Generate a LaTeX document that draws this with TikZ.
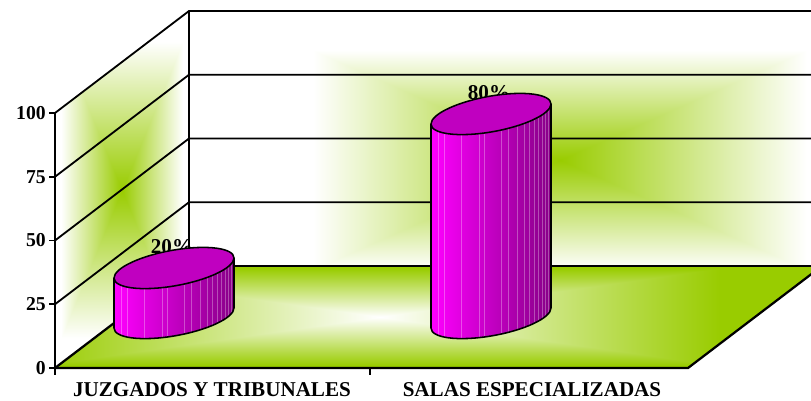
\documentclass[tikz,border=0pt]{standalone}
\usepackage{fontspec}
\setmainfont{Liberation Serif}
\usetikzlibrary{positioning}

\definecolor{floorgreen}{RGB}{153,204,0}
\definecolor{barlight}{RGB}{255,0,255}
\definecolor{barmid}{RGB}{215,0,215}
\definecolor{bardark}{RGB}{135,0,135}
\definecolor{bartop}{RGB}{192,0,192}

% green in the middle, white at the edges (back wall)
\pgfdeclarefunctionalshading{backglow}{\pgfpointorigin}{\pgfpoint{100bp}{100bp}}{}{
  50 sub abs 1.35 mul exch 50 sub abs 1.5 mul
  2 copy lt {exch} if pop
  25 div dup 1 gt {pop 1} if
  dup 0.4 mul 0.6 add exch
  dup 0.2 mul 0.8 add exch
}
% same for the side wall
\pgfdeclarefunctionalshading{sideglow}{\pgfpointorigin}{\pgfpoint{100bp}{100bp}}{}{
  50 sub abs 1.2 mul exch 50 sub abs 1.1 mul
  2 copy lt {exch} if pop
  25 div dup 1 gt {pop 1} if
  dup 0.4 mul 0.6 add exch
  dup 0.2 mul 0.8 add exch
}
% white in the middle, green at the edges (floor)
\pgfdeclarefunctionalshading{floorglow}{\pgfpointorigin}{\pgfpoint{100bp}{100bp}}{}{
  50 sub abs 1.05 mul exch 50 sub abs 1.3 mul
  2 copy lt {exch} if pop
  25 div dup 1 gt {pop 1} if
  dup -0.4 mul 1 add exch
  dup -0.2 mul 1 add exch
  -1 mul 1 add
}

\tikzstyle{gridline}=[line width=1.3pt,black]
\tikzstyle{edgeline}=[line width=1.6pt,black]
\tikzstyle{axislabel}=[font=\fontsize{14}{14}\selectfont\bfseries,inner sep=0pt,anchor=east]
\tikzstyle{catlabel}=[font=\fontsize{15}{15}\selectfont\bfseries,inner sep=0pt,anchor=base]
\tikzstyle{pctlabel}=[font=\fontsize{15}{15}\selectfont\bfseries,inner sep=0pt,anchor=base]
\tikzstyle{barline}=[line width=1.1pt,black]

\begin{document}
\begin{tikzpicture}[x=0.025cm,y=0.025cm]
\useasboundingbox (0,0) rectangle (811,401);
\clip (0,0) rectangle (811,401);

% walls and floor
\begin{scope}
  \clip (189,135) rectangle (822,389);
  \shade[shading=backglow] (190,93) rectangle (930,389);
\end{scope}
\begin{scope}
  \clip (55,33) -- (189,135) -- (189,389) -- (55,288) -- cycle;
  \shade[shading=sideglow] (55,33) rectangle (189,389);
\end{scope}
\begin{scope}
  \clip (55,33) -- (688,33) -- (822,135) -- (189,135) -- cycle;
  \shade[shading=floorglow] (-62,33) rectangle (822,135);
\end{scope}

% grid
\foreach \k in {1,2,3,4}{
  \draw[gridline] (55,33+63.75*\k) -- (189,135+63.75*\k) -- (822,135+63.75*\k);
}
\draw[gridline] (189,135) -- (189,389);
\draw[edgeline] (55,26) -- (55,288);
\draw[edgeline] (189,135) -- (822,135);
\draw[edgeline] (55,33) -- (189,135);
\draw[edgeline] (55,33) -- (688,33) -- (822,135);

% ticks and values
\foreach \v [count=\k from 0] in {0,25,50,75,100}{
  \draw[gridline] (49,33+63.75*\k) -- (55,33+63.75*\k);
  \node[axislabel] (val\v) at (46,33+63.75*\k) {\v};
}
\draw[gridline] (370,33) -- (370,26);

% bars
\foreach \cx/\h/\pct/\nm in {174/50/20/jt,491/204/80/se}{
  \node[pctlabel] (\nm-pct) at (\cx-2,83+\h+14) {\pct\%};
  \begin{scope}[shift={(\cx,83)},yslant=0.167]
    \shade[left color=barlight,middle color=barmid,right color=bardark]
      (-60,\h) -- (-60,0) arc[start angle=180,end angle=360,x radius=60,y radius=18] -- (60,\h) -- cycle;
    \foreach \x in {-53,-47,-30,-12,-7,10,17,26,33,38,43,47,51,54,57}{
      \draw[white,opacity=0.3,line width=0.3pt]
        (\x,{\h-18*sqrt(1-(\x/60)^2)}) -- (\x,{-18*sqrt(1-(\x/60)^2)});
    }
    \draw[barline] (-60,\h) -- (-60,0) arc[start angle=180,end angle=360,x radius=60,y radius=18] -- (60,\h);
    \filldraw[barline,fill=bartop] (0,\h) ellipse [x radius=60,y radius=18];
  \end{scope}
}

% categories
\node[catlabel] (jt-name) at (212,4) {JUZGADOS Y TRIBUNALES};
\node[catlabel] (se-name) at (532,4) {SALAS ESPECIALIZADAS};
\end{tikzpicture}
\end{document}
